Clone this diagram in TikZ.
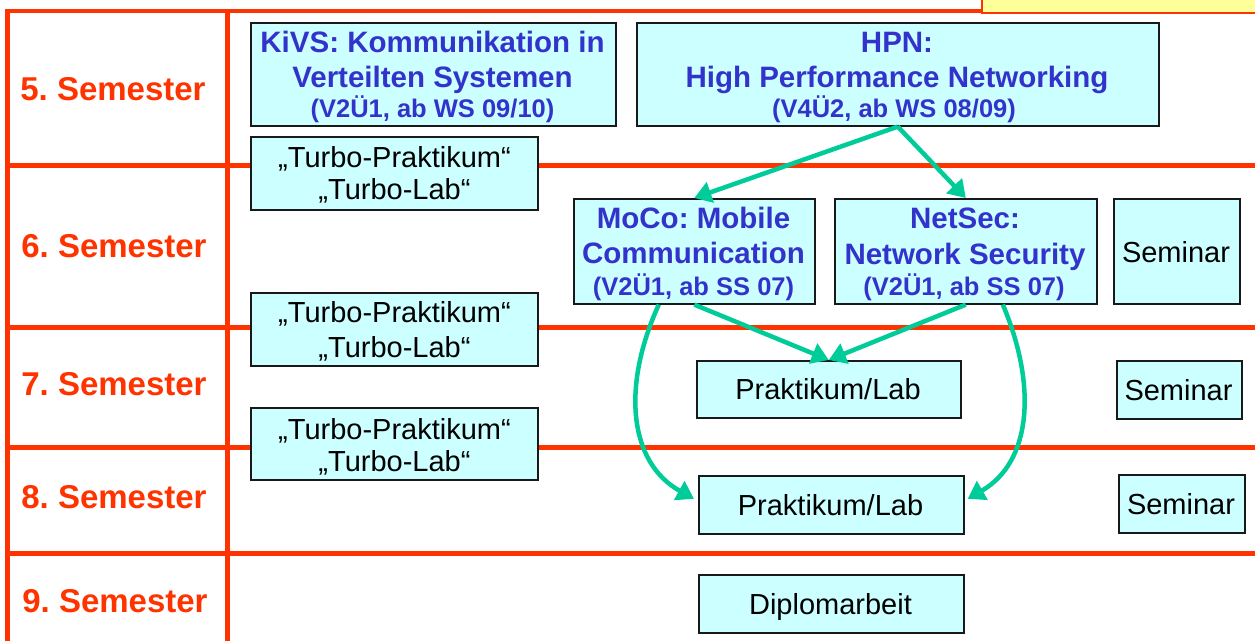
\documentclass[tikz,border=0pt]{standalone}
\usepackage{fontspec}
\setmainfont{Liberation Sans}
\usetikzlibrary{arrows.meta,calc}
\definecolor{gridred}{HTML}{FF3300}
\definecolor{titleblue}{HTML}{3333CC}
\definecolor{boxcyan}{HTML}{CCFFFF}
\definecolor{arrowgreen}{HTML}{00CC99}
\definecolor{noteyellow}{HTML}{FFFF99}
\frenchspacing
\begin{document}
\frenchspacing
\begin{tikzpicture}[x=1pt,y=-1pt,
  gridline/.style={draw=gridred, line width=5pt},
  box/.style={draw=black!90, line width=1.6pt, fill=boxcyan, inner sep=0pt, anchor=north west},
  semlabel/.style={anchor=base, inner sep=0pt, text=gridred, font=\fontsize{33}{36}\selectfont\bfseries},
  title/.style={anchor=base, inner sep=0pt, text=titleblue, font=\fontsize{29.5}{33}\selectfont\bfseries},
  subtitle/.style={anchor=base, inner sep=0pt, text=titleblue, font=\fontsize{25.5}{28}\selectfont\bfseries},
  subtitlesmall/.style={anchor=base, inner sep=0pt, text=titleblue, font=\fontsize{25.5}{28}\selectfont\bfseries},
  plain/.style={anchor=base, inner sep=0pt, text=black, font=\fontsize{29}{33}\selectfont},
  flow/.style={draw=arrowgreen, line width=4.5pt, -{Triangle[length=17pt,width=21pt]}}
]
\useasboundingbox (0,0) rectangle (1255,641);
\fill[white] (0,0) rectangle (1255,641);

% note box at the top right
\node[draw=gridred, line width=1.5pt, fill=noteyellow, anchor=north west, minimum width=280pt, minimum height=16pt, inner sep=0pt] (note) at (981,-4) {};

% grid
\coordinate (tl) at (7.5,11);
\coordinate (tr) at (981,11);
\coordinate (bl) at (7.5,641);
\coordinate (cl) at (227,11);
\coordinate (cb) at (227,641);
\draw[gridline, line width=4.5pt] (5,11) -- (tr);
\draw[gridline] (tl) -- (bl);
\draw[gridline] (cl) -- (cb);
\foreach \yy/\nm in {165/a,327/b,447/c,553/d}{
  \coordinate (h\nm l) at (5,\yy);
  \coordinate (h\nm r) at (1255,\yy);
  \draw[gridline] (h\nm l) -- (h\nm r);
}

% semester labels
\node[semlabel] (s5) at (113,100) {5. Semester};
\node[semlabel] (s6) at (114,257) {6. Semester};
\node[semlabel] (s7) at (114,395) {7. Semester};
\node[semlabel] (s8) at (114,508) {8. Semester};
\node[semlabel] (s9) at (115,612) {9. Semester};

% boxes
\node[box, minimum width=365pt, minimum height=103pt] (kivs) at (250,22) {};
\node[box, minimum width=522pt, minimum height=103pt] (hpn) at (636,22) {};
\node[box, minimum width=287pt, minimum height=73pt] (turbo1) at (250,136) {};
\node[box, minimum width=287pt, minimum height=73pt] (turbo2) at (250,292) {};
\node[box, minimum width=287pt, minimum height=72pt] (turbo3) at (250,407) {};
\node[box, minimum width=241pt, minimum height=105pt] (moco) at (573,198) {};
\node[box, minimum width=262pt, minimum height=105pt] (netsec) at (834,198) {};
\node[box, minimum width=126pt, minimum height=105pt] (sem1) at (1113,198) {};
\node[box, minimum width=125pt, minimum height=58pt] (sem2) at (1116,360) {};
\node[box, minimum width=126pt, minimum height=58pt] (sem3) at (1118,474) {};
\node[box, minimum width=264pt, minimum height=57pt] (prak1) at (696,360) {};
\node[box, minimum width=265pt, minimum height=58pt] (prak2) at (698,475) {};
\node[box, minimum width=265pt, minimum height=58pt] (diplom) at (698,574) {};

% texts
\node[title] (kivs1) at (432.5,52) {KiVS: Kommunikation in};
\node[title] (kivs2) at (432.5,87) {Verteilten Systemen};
\node[subtitle] (kivs3) at (432.5,117) {(V2Ü1, ab WS 09/10)};
\node[title] (hpn1) at (897,52) {HPN:};
\node[title] (hpn2) at (897,87) {High Performance Networking};
\node[subtitle] (hpn3) at (894,117) {(V4Ü2, ab WS 08/09)};
\node[plain] (turbo1a) at (394.5,167) {„Turbo-Praktikum“};
\node[plain] (turbo1b) at (394.5,199) {„Turbo-Lab“};
\node[plain] (turbo2a) at (394.5,322) {„Turbo-Praktikum“};
\node[plain] (turbo2b) at (394.5,357) {„Turbo-Lab“};
\node[plain] (turbo3a) at (394.5,439) {„Turbo-Praktikum“};
\node[plain] (turbo3b) at (394.5,471) {„Turbo-Lab“};
\node[title] (moco1) at (693.5,228) {MoCo: Mobile};
\node[title] (moco2) at (693.5,263) {Communication};
\node[subtitlesmall] (moco3) at (693.5,295) {(V2Ü1, ab SS 07)};
\node[title] (netsec1) at (965,228) {NetSec:};
\node[title] (netsec2) at (965,264) {Network Security};
\node[subtitlesmall] (netsec3) at (964,295) {(V2Ü1, ab SS 07)};
\node[plain] (sem1t) at (1176,262) {Seminar};
\node[plain] (sem2t) at (1178.5,400) {Seminar};
\node[plain] (sem3t) at (1181,514) {Seminar};
\node[plain] (prak1t) at (828,399) {Praktikum/Lab};
\node[plain] (prak2t) at (830.5,515) {Praktikum/Lab};
\node[plain] (diplomt) at (830.5,614) {Diplomarbeit};

% arrows
\draw[flow] (hpn.south) -- (moco.north);
\draw[flow] (hpn.south) -- (netsec.north);
\draw[flow] (moco.south) -- (prak1.north);
\draw[flow] (netsec.south) -- (prak1.north);
\draw[flow] ($(moco.south)+(-35.5,0)$) .. controls (622,385) and (628,462) .. ($(prak2.west)+(-4,-6)$);
\draw[flow] ($(netsec.south)+(37,0)$) .. controls (1037,385) and (1032,462) .. ($(prak2.east)+(3,-6)$);
\end{tikzpicture}
\end{document}
